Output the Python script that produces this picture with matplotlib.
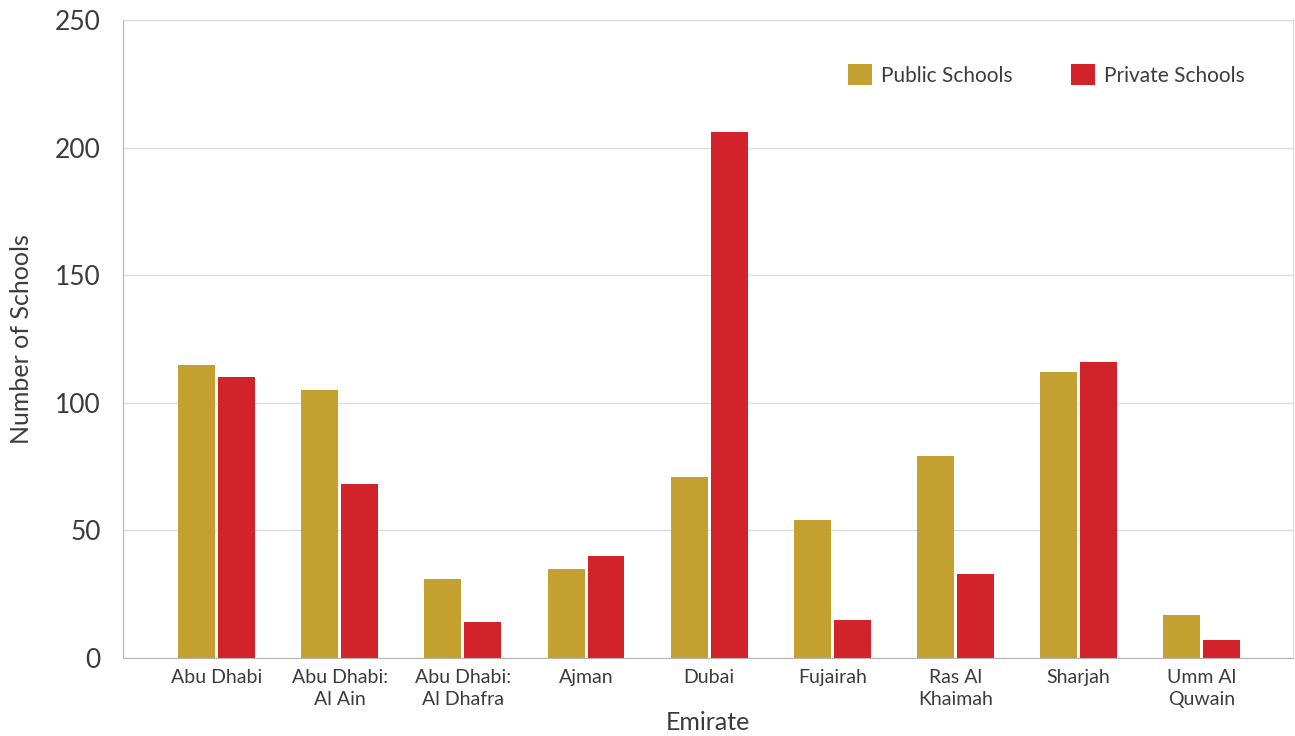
import numpy as np
import matplotlib.pyplot as plt

plt.rcParams['font.family'] = ['Lato', 'DejaVu Sans']

emirates = ['Abu Dhabi', 'Abu Dhabi:\nAl Ain', 'Abu Dhabi:\nAl Dhafra', 'Ajman', 'Dubai',
            'Fujairah', 'Ras Al\nKhaimah', 'Sharjah', 'Umm Al\nQuwain']
public = [115, 105, 31, 35, 71, 54, 79, 112, 17]
private = [110, 68, 14, 40, 206, 15, 33, 116, 7]

gold = '#C4A030'
red = '#D2232A'
txt = '#3c3c3c'

fig = plt.figure(figsize=(12.95, 7.36), dpi=100)
ax = fig.add_axes([123/1295, 78/736, 1170/1295, 638/736])

x = np.arange(len(emirates))
w = 0.30
ax.bar(x - w/2 - 0.012, public, w, color=gold, label='Public Schools')
ax.bar(x + w/2 + 0.012, private, w, color=red, label='Private Schools')

ax.set_xlim(-0.76, 8.74)
ax.set_ylim(0, 250)
ax.set_yticks([0, 50, 100, 150, 200, 250])
ax.set_xticks(x)
ax.set_xticklabels(emirates, fontsize=14, color=txt, linespacing=1.35)
for t in ax.get_yticklabels():
    t.set_fontsize(19)
    t.set_color(txt)
ax.tick_params(axis='x', length=0, pad=8)
ax.tick_params(axis='y', length=0, pad=16)

ax.yaxis.grid(True, color='#dcdcdc', linewidth=1)
ax.set_axisbelow(True)
for s in ['left', 'bottom']:
    ax.spines[s].set_color('#b8b4ae')
ax.spines['right'].set_color('#dcdcdc')
ax.spines['top'].set_color('#dcdcdc')

ax.set_xlabel('Emirate', fontsize=18, color=txt, labelpad=2)
ax.set_ylabel('Number of Schools', fontsize=18, color=txt, labelpad=16)

ax.legend(loc='upper right', bbox_to_anchor=(0.975, 0.96), ncol=2, frameon=False,
          fontsize=15, handlelength=1.15, handleheight=1.15, columnspacing=2.8,
          handletextpad=0.45, labelcolor=txt)

fig.savefig('out.png', dpi=100)
